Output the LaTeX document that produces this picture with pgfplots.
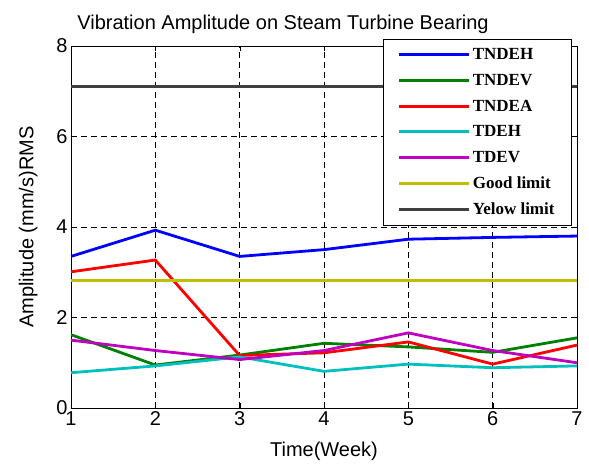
\documentclass[border=0pt]{standalone}
\usepackage{pgfplots}
\pgfplotsset{compat=1.18}
\usepackage{fontspec}
\setmainfont{Liberation Sans}
\newfontfamily\legfont{Liberation Serif}
\definecolor{mblue}{RGB}{0,0,255}
\definecolor{mgreen}{RGB}{0,128,0}
\definecolor{mred}{RGB}{255,0,0}
\definecolor{mcyan}{RGB}{0,191,191}
\definecolor{mmag}{RGB}{191,0,191}
\definecolor{molive}{RGB}{191,191,0}
\definecolor{mgray}{RGB}{64,64,64}
\begin{document}
\begin{tikzpicture}
\begin{axis}[
  at={(0pt,0pt)}, anchor=south west,
  scale only axis,
  width=506pt, height=362pt,
  xmin=1, xmax=7, ymin=0, ymax=8,
  xtick={1,...,7}, ytick={0,2,4,6,8},
  grid=major,
  major grid style={black, dash pattern=on 6pt off 4pt, line width=0.5pt},
  axis line style={black, line width=0.8pt},
  tick align=inside,
  tick style={black},
  major tick length=5pt,
  /pgf/number format/assume math mode=true,
  tick label style={font=\fontsize{20}{22}\selectfont},
  label style={font=\fontsize{20}{22}\selectfont},
  xlabel={Time(Week)},
  ylabel={Amplitude (mm/s)RMS},
  xlabel style={yshift=-9pt},
  ylabel style={yshift=12pt},
  title={Vibration Amplitude on Steam Turbine Bearing},
  title style={at={(rel axis cs:0.419,1)}, anchor=south, yshift=3pt, font=\fontsize{20}{22}\selectfont},
  legend style={at={(rel axis cs:0.99,1.019)}, anchor=north east,
    draw=black, fill=white, line width=0.8pt,
    font=\legfont\bfseries\fontsize{17}{19}\selectfont,
    row sep=9pt, inner xsep=15pt, inner ysep=7pt},
  legend cell align=left,
  legend image code/.code={\draw[#1, line width=2.8pt] (0pt,0pt) -- (70pt,0pt);},
  every axis plot/.append style={line width=2.8pt},
]
\addplot[mblue] coordinates {(1,3.35)(2,3.93)(3,3.35)(4,3.50)(5,3.73)(6,3.77)(7,3.80)};
\addlegendentry{TNDEH}
\addplot[mgreen] coordinates {(1,1.62)(2,0.95)(3,1.17)(4,1.43)(5,1.35)(6,1.23)(7,1.55)};
\addlegendentry{TNDEV}
\addplot[mred] coordinates {(1,3.01)(2,3.27)(3,1.16)(4,1.22)(5,1.46)(6,0.97)(7,1.39)};
\addlegendentry{TNDEA}
\addplot[mcyan] coordinates {(1,0.78)(2,0.93)(3,1.13)(4,0.81)(5,0.97)(6,0.89)(7,0.93)};
\addlegendentry{TDEH}
\addplot[mmag] coordinates {(1,1.50)(2,1.27)(3,1.07)(4,1.27)(5,1.66)(6,1.27)(7,1.00)};
\addlegendentry{TDEV}
\addplot[molive] coordinates {(1,2.81)(7,2.81)};
\addlegendentry{Good limit}
\addplot[mgray] coordinates {(1,7.1)(7,7.1)};
\addlegendentry{Yelow limit}
\end{axis}
\path (-71pt,-63pt) rectangle (518pt,408pt);
\end{tikzpicture}
\end{document}
